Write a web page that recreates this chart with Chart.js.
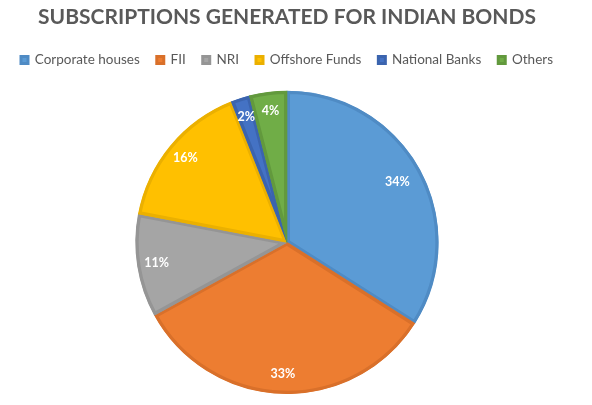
<!DOCTYPE html>
<html lang="en">
<head>
  <meta charset="UTF-8">
  <title>Subscriptions generated for Indian bonds</title>
  <style>
    html, body { margin: 0; padding: 0; background: #fff; }
    #wrap { width: 592px; height: 405px; }
  </style>
</head>
<body>
  <div id="wrap"><canvas id="pie"></canvas></div>

  <script src="https://cdn.jsdelivr.net/npm/chart.js"></script>
  <script>
    const categories = ["Corporate houses", "FII", "NRI", "Offshore Funds", "National Banks", "Others"];
    const shares = [34, 33, 11, 16, 2, 4];
    const fills = ["#5B9BD5", "#ED7D31", "#A5A5A5", "#FFC000", "#4472C4", "#70AD47"];
    const edges = ["#4F8BC4", "#D9702A", "#959595", "#EBB000", "#3B64AE", "#62993D"];

    // white percentage labels inside each slice
    const sliceLabels = {
      id: "sliceLabels",
      afterDatasetsDraw(chart) {
        const ctx = chart.ctx;
        const meta = chart.getDatasetMeta(0);
        ctx.save();
        ctx.fillStyle = "#ffffff";
        ctx.font = "bold 12.5px Lato";
        ctx.textAlign = "center";
        ctx.textBaseline = "middle";
        meta.data.forEach(function (arc, i) {
          const p = arc.getProps(["x", "y", "startAngle", "endAngle", "outerRadius"], true);
          const mid = (p.startAngle + p.endAngle) / 2;
          const r = p.outerRadius * (i === 0 ? 0.83 : 0.87);
          ctx.fillText(shares[i] + "%", p.x + Math.cos(mid) * r, p.y + Math.sin(mid) * r);
        });
        ctx.restore();
      }
    };

    // extra room under the legend
    const legendGap = {
      id: "legendGap",
      beforeInit(chart) {
        const fit = chart.legend.fit;
        chart.legend.fit = function () {
          fit.bind(chart.legend)();
          this.height += 14;
        };
      }
    };

    new Chart(document.getElementById("pie").getContext("2d"), {
      type: "pie",
      data: {
        labels: categories,
        datasets: [{
          data: shares,
          backgroundColor: fills,
          borderColor: edges,
          borderWidth: 3,
          borderAlign: "inner"
        }]
      },
      options: {
        responsive: true,
        maintainAspectRatio: false,
        animation: false,
        layout: { padding: { left: 0, right: 18, top: 0, bottom: 11 } },
        plugins: {
          title: {
            display: true,
            text: "SUBSCRIPTIONS GENERATED FOR INDIAN BONDS",
            color: "#595959",
            font: { family: "Lato", size: 21, weight: "bold" },
            padding: { top: 5, bottom: 6 }
          },
          legend: {
            position: "top",
            labels: {
              color: "#595959",
              font: { family: "Lato", size: 13.5 },
              boxWidth: 7,
              boxHeight: 7,
              padding: 17
            }
          },
          tooltip: { enabled: false }
        }
      },
      plugins: [sliceLabels, legendGap]
    });
  </script>
</body>
</html>
